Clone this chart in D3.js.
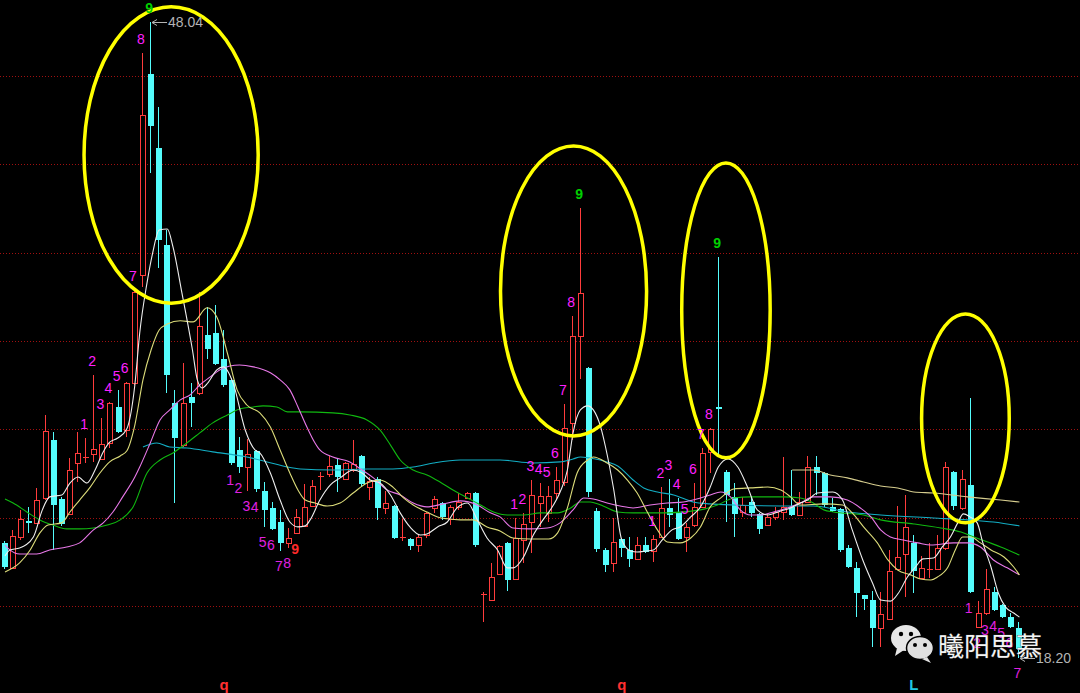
<!DOCTYPE html>
<html><head><meta charset="utf-8">
<script src="https://cdn.jsdelivr.net/npm/d3@7"></script>
<style>html,body{margin:0;padding:0;background:#000;overflow:hidden}</style>
</head><body><svg id="c" width="1080" height="693"></svg>
<script>
// ---- candle data (index 0..125) ----
const opens=[23.60,22.43,23.88,24.63,24.54,25.71,28.43,25.66,24.96,27.35,
27.58,27.77,27.54,28.29,29.98,28.90,31.11,36.17,45.61,42.13,
37.58,30.17,28.19,30.45,30.64,33.36,33.45,32.23,31.25,27.96,
27.16,27.91,26.04,25.24,24.58,23.60,24.07,24.40,25.33,26.69,
26.83,27.26,26.60,27.02,27.68,26.22,26.60,25.24,25.33,23.83,
23.78,23.50,23.97,25.24,25.47,24.73,25.29,25.71,25.94,21.16,
20.92,22.14,23.60,21.91,23.74,24.58,25.47,25.01,25.94,26.46,
29.23,33.31,31.81,25.10,23.27,22.66,23.78,23.27,22.85,23.50,
23.22,23.88,25.24,25.01,23.88,24.44,25.29,27.87,29.98,26.93,
25.76,25.05,25.52,24.96,24.44,24.82,25.05,25.29,24.91,25.52,
27.16,26.88,25.29,25.19,23.36,22.43,21.16,20.92,19.61,20.03,
22.38,23.08,23.60,21.95,22.33,22.38,23.36,26.93,25.24,26.32,
19.65,20.31,21.30,20.69,20.12,19.61];
const highs=[23.69,24.21,25.15,25.29,26.18,29.60,28.81,25.76,27.58,28.81,
28.52,31.48,29.46,30.21,30.78,31.15,35.47,46.59,48.04,44.06,
38.28,30.78,32.04,31.11,35.38,34.67,34.77,33.59,31.34,28.57,
28.47,27.96,26.46,25.52,25.15,24.30,25.19,26.36,26.55,26.93,
27.68,27.58,27.40,28.43,27.73,26.69,26.69,26.04,25.38,24.73,
23.83,23.97,25.05,25.80,25.52,25.38,25.94,25.99,25.99,21.30,
22.66,23.50,23.64,24.77,25.01,26.55,26.41,26.27,27.16,30.12,
34.25,39.32,31.86,25.24,23.36,24.77,23.83,23.88,23.88,23.88,
23.97,26.22,26.60,25.71,24.54,26.41,28.05,28.99,37.02,27.02,
26.41,25.76,25.76,25.01,24.96,25.29,27.63,27.02,25.99,27.68,
27.68,26.93,25.71,25.24,23.50,22.71,21.16,21.34,21.30,23.27,
25.33,25.85,23.97,22.99,23.60,23.97,27.40,26.97,27.02,30.40,
20.87,22.38,21.53,20.73,20.31,19.89];
const lows=[22.38,22.38,23.74,24.07,24.50,25.61,23.27,24.40,24.91,26.46,
27.35,27.40,27.49,28.05,28.76,28.57,31.01,35.61,40.96,36.50,
30.64,25.47,28.10,29.04,30.54,32.23,31.95,30.92,27.26,26.88,
26.04,25.99,24.35,24.21,23.22,23.36,24.02,24.35,25.29,26.08,
26.69,25.99,26.55,26.93,26.22,25.61,24.68,24.96,23.78,23.69,
23.27,23.17,23.83,25.01,24.68,24.44,25.15,25.66,23.41,19.89,
20.87,22.10,21.34,21.86,22.66,23.13,24.35,24.58,25.61,26.27,
28.43,31.29,25.76,23.17,22.24,22.24,22.94,22.47,22.80,23.13,
22.71,23.83,24.35,23.74,23.17,24.35,25.24,26.88,27.73,24.58,
23.88,24.82,24.82,24.02,24.40,24.68,24.68,24.86,24.86,25.47,
25.85,25.29,25.05,23.17,22.43,20.12,20.45,18.72,18.72,19.98,
22.33,21.06,21.25,21.91,21.95,22.33,23.27,25.15,25.15,21.25,
19.61,20.22,20.41,20.08,19.61,18.20];
const closes=[22.47,23.93,24.73,24.54,25.61,28.85,25.38,24.49,27.02,27.82,
27.63,28.00,28.24,30.17,28.81,31.11,35.38,43.68,43.17,37.81,
31.48,28.52,30.17,30.17,33.78,32.70,32.00,31.01,27.35,27.16,
27.77,26.13,25.15,24.26,23.60,23.83,24.82,25.29,26.27,26.74,
27.21,26.69,27.35,27.30,26.36,26.50,25.24,25.47,23.83,23.88,
23.46,23.88,25.01,25.66,24.82,25.29,25.52,25.94,23.50,21.20,
22.00,23.46,21.86,23.83,24.49,25.85,25.80,25.80,26.55,28.99,
33.31,35.33,25.99,23.32,22.56,23.64,23.36,22.85,23.50,23.17,
23.78,25.24,24.91,23.78,24.35,25.29,27.82,28.94,29.89,25.85,
24.96,25.38,25.01,24.26,24.82,25.05,25.29,24.91,25.52,27.16,
26.88,25.38,25.10,23.27,22.47,21.25,20.97,19.61,20.26,22.28,
22.94,24.35,22.28,22.43,22.38,23.36,27.16,25.33,26.60,21.30,
20.31,21.44,20.45,20.12,19.65,18.62];

// ---- moving average lines, read as [candle index, price] ----
const ma5=[[0,22.99],[0.6,23.27],[1.8,23.36],[3.5,23.88],[4.6,25.15],[5.5,25.76],[7,25.85],[8,26.41],[9,26.69],[10.1,26.41],[11.1,27.02],[12.1,27.87],[12.9,28.33],[13.9,28.52],[15,28.94],[16,31.01],[16.6,33.45],[17.5,35.8],[18.2,37.21],[19,38.28],[20,38.33],[20.7,37.49],[21.8,35.33],[23.1,32.65],[23.7,31.25],[24.3,30.87],[25,31.11],[26.1,31.72],[26.9,31.86],[28.1,31.11],[29.6,28.9],[30.8,27.96],[31.4,27.82],[32.7,26.88],[33.9,25.61],[35.1,24.58],[36.1,24.35],[37,24.4],[37.6,24.68],[38.8,25.61],[40.1,26.32],[41.3,26.65],[42.9,27.02],[44,26.88],[45,26.55],[46.2,26.41],[47.5,25.85],[48.7,25.01],[49.9,24.35],[51.2,23.97],[52,24.02],[53.3,24.35],[54.5,24.58],[55.7,25.24],[57,25.47],[58.2,24.68],[59.4,23.83],[60.7,23.27],[61.9,22.43],[62.6,22.43],[63.9,22.94],[65.1,23.97],[66.3,24.68],[67.2,25.15],[68.4,25.99],[69.3,27.02],[70,28.76],[70.9,29.84],[71.8,30.03],[72.5,29.84],[73.4,29.04],[74,28.1],[75,26.13],[76,23.74],[77.1,23.22],[77.9,23.17],[79,23.22],[79.9,23.27],[81,23.74],[82.2,24.21],[83.2,24.35],[84.5,24.82],[85.7,25.29],[86.9,26.22],[87.9,27.16],[89.1,27.54],[90.3,27.16],[91.5,26.22],[92.7,25.15],[94,24.91],[95.6,25.1],[96.8,25.24],[98,25.47],[98.9,25.61],[100.1,25.94],[102,25.99],[103.2,25.61],[104.4,24.21],[105.7,22.8],[106.9,21.72],[107.9,20.92],[109.1,20.87],[110.1,21.25],[111.2,22.0],[112.2,22.47],[113.1,22.85],[114.4,22.89],[115.5,23.41],[116.5,23.88],[117.4,24.54],[118.1,24.96],[118.9,24.82],[119.8,24.54],[120.5,23.6],[121.5,22.47],[122.4,21.25],[123.3,20.59],[124.3,20.31],[125,20.12]];
const ma10=[[0,22.24],[1.8,22.66],[3.1,23.27],[4.3,24.07],[5.3,24.44],[7,24.54],[8,25.05],[9.2,25.61],[10.5,26.22],[11.7,26.88],[12.9,27.4],[14.2,27.68],[15,27.91],[16,29.13],[17,31.25],[18,32.65],[19,33.59],[20,33.87],[21.6,34.02],[23.2,33.97],[24.9,34.63],[26.1,34.2],[27.4,32.51],[28.6,30.78],[29.8,30.07],[31.4,29.7],[32.7,29.04],[33.9,27.96],[35.1,26.88],[36.1,26.08],[37,25.61],[38.2,25.47],[39.7,25.33],[41.3,25.47],[42.9,25.94],[44.6,26.41],[46.2,26.55],[47.8,26.22],[49.1,25.71],[50.3,25.38],[52,25.05],[53.3,24.82],[54.5,24.73],[56.1,24.68],[57.7,24.68],[59.4,24.35],[61,24.16],[62.6,23.83],[64.7,23.78],[67,23.78],[68.1,24.07],[69.3,25.24],[70.5,26.88],[71.8,27.49],[72.5,27.63],[74.2,27.35],[75.5,27.02],[76.7,26.55],[77.9,25.94],[79.2,25.01],[80.4,24.21],[81.6,23.64],[83.2,23.6],[84.5,23.83],[85.7,24.35],[86.9,25.29],[88.2,25.71],[89.8,26.13],[91.9,26.18],[94,26.22],[95.6,26.08],[96.8,25.76],[98,25.38],[100.9,25.43],[103.2,25.38],[104.4,25.01],[105.8,24.35],[107.5,23.6],[108.8,22.8],[110,22.33],[111.6,22.1],[112.8,21.91],[114.1,21.86],[114.9,22.0],[116.2,22.47],[117.1,23.27],[118,23.88],[119,23.88],[120.2,23.6],[121.5,23.27],[123.1,22.94],[124.3,22.47],[125,22.1]];
const ma20=[[0,23.5],[0.6,23.27],[1.8,23.08],[3.9,23.08],[5.5,23.27],[7.6,23.41],[9.2,23.6],[10.9,24.21],[12.1,24.54],[13.3,25.05],[14.5,25.76],[16,26.69],[16.6,27.16],[17.9,28.29],[19.1,29.37],[20.3,29.84],[21.6,30.31],[22.8,30.54],[24,31.01],[25.3,31.39],[26.5,31.72],[27.7,31.9],[28.9,31.95],[30.6,31.86],[32.7,31.58],[33.9,31.25],[35.1,30.78],[36.1,29.98],[37.2,29.04],[38.2,28.29],[38.8,27.96],[40.4,27.63],[42.5,27.4],[44,27.02],[45.4,26.65],[47.1,26.08],[48.7,25.85],[50.3,25.47],[52,25.29],[54,25.43],[56.1,25.57],[58.2,25.38],[59.8,25.01],[61,24.82],[62.6,24.3],[64.7,24.26],[66.8,24.3],[68.4,24.54],[70,25.15],[71.3,25.71],[72.5,25.66],[74.2,25.47],[75.8,25.33],[77.4,25.24],[79.5,25.38],[81.6,25.47],[83.6,25.52],[85.7,25.71],[86.9,25.85],[88.2,25.99],[89.4,25.76],[90.6,25.15],[91.9,24.91],[93.1,24.91],[94.7,25.05],[96.4,25.24],[98,25.47],[99.6,25.76],[101.7,25.76],[103.8,25.61],[105.4,25.24],[106.7,24.82],[107.9,24.21],[109.1,23.88],[110.7,23.74],[112.5,23.6],[114.1,23.5],[116.9,23.6],[118.6,23.6],[120.2,23.41],[121.8,22.8],[123.5,22.43],[125,22.1]];
const ma30=[[0,25.66],[1,25.47],[2.7,25.05],[4.3,24.68],[5.9,24.44],[7.6,24.26],[9.2,24.26],[10.9,24.3],[12.6,24.44],[14.2,24.68],[15.8,25.3],[17.5,26.88],[19.1,27.49],[20.7,27.82],[22.4,28.29],[24,28.76],[25.6,29.23],[27.4,29.6],[29,29.89],[30.6,29.98],[31.8,30.03],[33.5,29.98],[34.8,29.75],[36.4,29.75],[40.4,29.7],[42.5,29.6],[44.6,29.37],[46.2,28.9],[47.5,28.19],[48.7,27.49],[50.3,27.02],[52,26.79],[53.6,26.46],[55.2,26.08],[57,25.71],[58.6,25.38],[60.2,25.05],[61.9,24.91],[63.9,24.91],[66,25.01],[68.1,25.01],[69.7,25.24],[70.9,25.52],[72.1,25.52],[73.7,25.33],[75.5,25.05],[77.4,25.01],[81.6,25.01],[85.7,25.15],[87.8,25.38],[89.8,25.71],[91.9,25.76],[95.9,25.76],[98,25.71],[99.6,25.47],[100.9,25.15],[102.1,25.05],[105.8,24.91],[107.9,24.68],[112,24.49],[115.3,24.3],[117.8,24.11],[119.4,23.88],[121.1,23.64],[122.7,23.41],[125,23.03]];
const ma60=[[17,28.1],[18.7,28.29],[20.3,28.1],[22.4,28.05],[25.6,27.87],[29.8,27.63],[32.3,27.4],[34.8,27.16],[36.4,27.07],[40.4,27.02],[44.6,27.07],[47.8,27.07],[50.3,27.16],[52.8,27.35],[56.1,27.49],[61,27.49],[65.1,27.35],[68.4,27.4],[70,27.54],[70.9,27.63],[72.1,27.58],[74.2,27.4],[75.5,27.21],[77.4,26.55],[78.7,26.18],[80.4,25.99],[82.4,25.85],[84.8,25.52],[86.9,25.43],[89.8,25.38],[98,25.33],[99.6,25.33],[103.8,25.05],[107.9,24.91],[114.4,24.77],[118.6,24.68],[121.8,24.58],[125,24.4]];
const ma120=[[97,27.02],[99.6,27.02],[101.7,26.79],[103.8,26.65],[105.8,26.46],[107.9,26.27],[110,26.18],[112,25.99],[114.4,25.94],[118.6,25.76],[122.7,25.61],[125,25.52]];

// ---- TD counts ----
const tdUpIdx=[10,11,12,13,14,15,16,17,18, 63,64,65,66,67,68,69,70,71, 80,81,82,83,84,85,86,87,88];
const tdUpNum=[1,2,3,4,5,6,7,8,9, 1,2,3,4,5,6,7,8,9, 1,2,3,4,5,6,7,8,9];
const tdDnIdx=[28,29,30,31,32,33,34,35,36, 119,120,121,122,123,124,125];
const tdDnNum=[1,2,3,4,5,6,7,8,9, 1,2,3,4,5,6,7];

// ---- horizontal grid prices ----
const gridPrices=[45.51,41.37,37.22,33.07,28.93,24.79,20.64];
// ---- highlighted zones: [centre index, centre price, half-width (candles), half-height (price)] ----
const zones=[[20.47,41.80,10.73,6.95],[70.06,35.42,9.0,6.80],[88.84,34.51,5.45,6.92],[118.35,29.44,5.40,4.90]];
// ---- bottom markers ----
const markIdx=[27,76,112];
const markText=["q","q","L"];
const maxPrice=48.04, minPrice=18.20;

const svg=d3.select("#c");
svg.append("rect").attr("width",1080).attr("height",693).attr("fill","#000");
const x=d3.scaleLinear().domain([0,125]).range([5,1019.4]);
const y=d3.scaleLinear().domain([minPrice,maxPrice]).range([658,22]);

// grid
svg.append("g").selectAll("line").data(gridPrices).join("line")
  .attr("x1",0).attr("x2",1080)
  .attr("y1",d=>Math.round(y(d))+0.5).attr("y2",d=>Math.round(y(d))+0.5)
  .attr("stroke","#a01010").attr("stroke-width",1).attr("stroke-dasharray","1,2");

// candles
const idx=d3.range(opens.length);
const up=i=>closes[i]>opens[i];
const RED="#ff3c3c", CY="#54fcfc";
const cg=svg.append("g");
idx.forEach(i=>{
  const cx=Math.round(x(i)); const bx=cx-3;
  const yo=Math.round(y(opens[i])), yc=Math.round(y(closes[i]));
  const yh=Math.round(y(highs[i])), yl=Math.round(y(lows[i]));
  const top=Math.min(yo,yc), bot=Math.max(yo,yc);
  const wx=bx+2.5;
  if(up(i)){
    if(bot-top<2){
      cg.append("line").attr("x1",wx).attr("x2",wx).attr("y1",yh).attr("y2",yl).attr("stroke",RED);
      cg.append("line").attr("x1",bx).attr("x2",bx+6).attr("y1",top+0.5).attr("y2",top+0.5).attr("stroke",RED);
    } else {
      cg.append("line").attr("x1",wx).attr("x2",wx).attr("y1",yh).attr("y2",top).attr("stroke",RED);
      cg.append("line").attr("x1",wx).attr("x2",wx).attr("y1",bot).attr("y2",yl).attr("stroke",RED);
      cg.append("rect").attr("x",bx+0.5).attr("y",top+0.5).attr("width",5).attr("height",bot-top)
        .attr("fill","#000").attr("stroke",RED).attr("stroke-width",1);
    }
  } else {
    cg.append("line").attr("x1",wx).attr("x2",wx).attr("y1",yh).attr("y2",yl).attr("stroke",CY);
    if(bot-top<2){
      cg.append("line").attr("x1",bx).attr("x2",bx+6).attr("y1",top+0.5).attr("y2",top+0.5).attr("stroke",CY);
    } else {
      cg.append("rect").attr("x",bx).attr("y",top).attr("width",6).attr("height",bot-top).attr("fill",CY);
    }
  }
});

// moving averages
const line=d3.line().x(d=>x(d[0])).y(d=>y(d[1])).curve(d3.curveMonotoneX);
const mas=[[ma120,"#d6cd8e"],[ma60,"#13aec4"],[ma30,"#10b810"],[ma20,"#e878e8"],[ma10,"#dcdc7a"],[ma5,"#eeeeee"]];
mas.forEach(([d,c])=>svg.append("path").attr("d",line(d)).attr("fill","none").attr("stroke",c).attr("stroke-width",1.1));

// zones (ellipses)
svg.append("g").selectAll("ellipse").data(zones).join("ellipse")
  .attr("cx",d=>x(d[0])).attr("cy",d=>y(d[1]))
  .attr("rx",d=>x(d[2])-x(0)).attr("ry",d=>y(0)-y(d[3]))
  .attr("fill","none").attr("stroke","#ffff00").attr("stroke-width",3.5);

// TD labels
const FONT="'Liberation Sans', Arial, sans-serif";
const tg=svg.append("g").attr("font-family",FONT).attr("font-size",14).attr("text-anchor","middle");
tdUpIdx.forEach((i,k)=>{
  const n=tdUpNum[k];
  tg.append("text").attr("x",x(i)-2).attr("y",y(highs[i])-14).attr("dy","0.35em")
    .attr("fill",n===9?"#00d000":"#ff20ff").attr("font-weight",n===9?"bold":"normal").text(n);
});
tdDnIdx.forEach((i,k)=>{
  const n=tdDnNum[k];
  tg.append("text").attr("x",x(i)-2).attr("y",y(lows[i])+15).attr("dy","0.35em")
    .attr("fill",n===9?"#ff2a2a":"#e020e0").attr("font-weight",n===9?"bold":"normal").text(n);
});

// price extremes
const hiI=highs.indexOf(d3.max(highs)), loI=lows.indexOf(d3.min(lows));
function extreme(i,v){
  const px=Math.round(x(i))+1, py=Math.round(y(v));
  const g=svg.append("g").attr("stroke","#b4b4b4").attr("fill","none");
  g.append("line").attr("x1",px).attr("x2",px+15).attr("y1",py+0.5).attr("y2",py+0.5);
  g.append("path").attr("d",`M${px+5},${py-2.5}L${px},${py+0.5}L${px+5},${py+3.5}`);
  svg.append("text").attr("x",px+16).attr("y",py).attr("dy","0.36em").attr("fill","#b4b4b4")
    .attr("font-family",FONT).attr("font-size",14).text(d3.format(".2f")(v));
}
extreme(hiI,highs[hiI]);
extreme(loI,lows[loI]);

// bottom markers
svg.append("g").selectAll("text").data(markIdx).join("text")
  .attr("x",d=>x(d)).attr("y",690).attr("text-anchor","middle")
  .attr("font-family",FONT).attr("font-size",15).attr("font-weight","bold")
  .attr("fill",(d,k)=>markText[k]==="L"?"#20c8e0":"#ff3030").text((d,k)=>markText[k]);

// watermark
const wm=svg.append("g");
wm.append("ellipse").attr("cx",906).attr("cy",638).attr("rx",15).attr("ry",13).attr("fill","#e6e6e6");
wm.append("path").attr("d","M897,648 L895,656 L904,650 Z").attr("fill","#e6e6e6");
wm.append("circle").attr("cx",901).attr("cy",634).attr("r",2.2).attr("fill","#000");
wm.append("circle").attr("cx",911).attr("cy",634).attr("r",2.2).attr("fill","#000");
wm.append("ellipse").attr("cx",920).attr("cy",648).attr("rx",13.5).attr("ry",11.5).attr("fill","#e0e0e0").attr("stroke","#000").attr("stroke-width",1.5);
wm.append("path").attr("d","M927,657 L931,663 L922,659 Z").attr("fill","#e0e0e0");
wm.append("circle").attr("cx",915).attr("cy",645).attr("r",2).attr("fill","#000");
wm.append("circle").attr("cx",925).attr("cy",645).attr("r",2).attr("fill","#000");
wm.append("text").attr("x",938).attr("y",656).attr("font-family","'Noto Sans CJK SC', sans-serif")
  .attr("font-size",26).attr("fill","#f4f4f4").attr("stroke","#404040").attr("stroke-width",0.6)
  .attr("paint-order","stroke").text("曦阳思慕");
</script>
</body></html>
